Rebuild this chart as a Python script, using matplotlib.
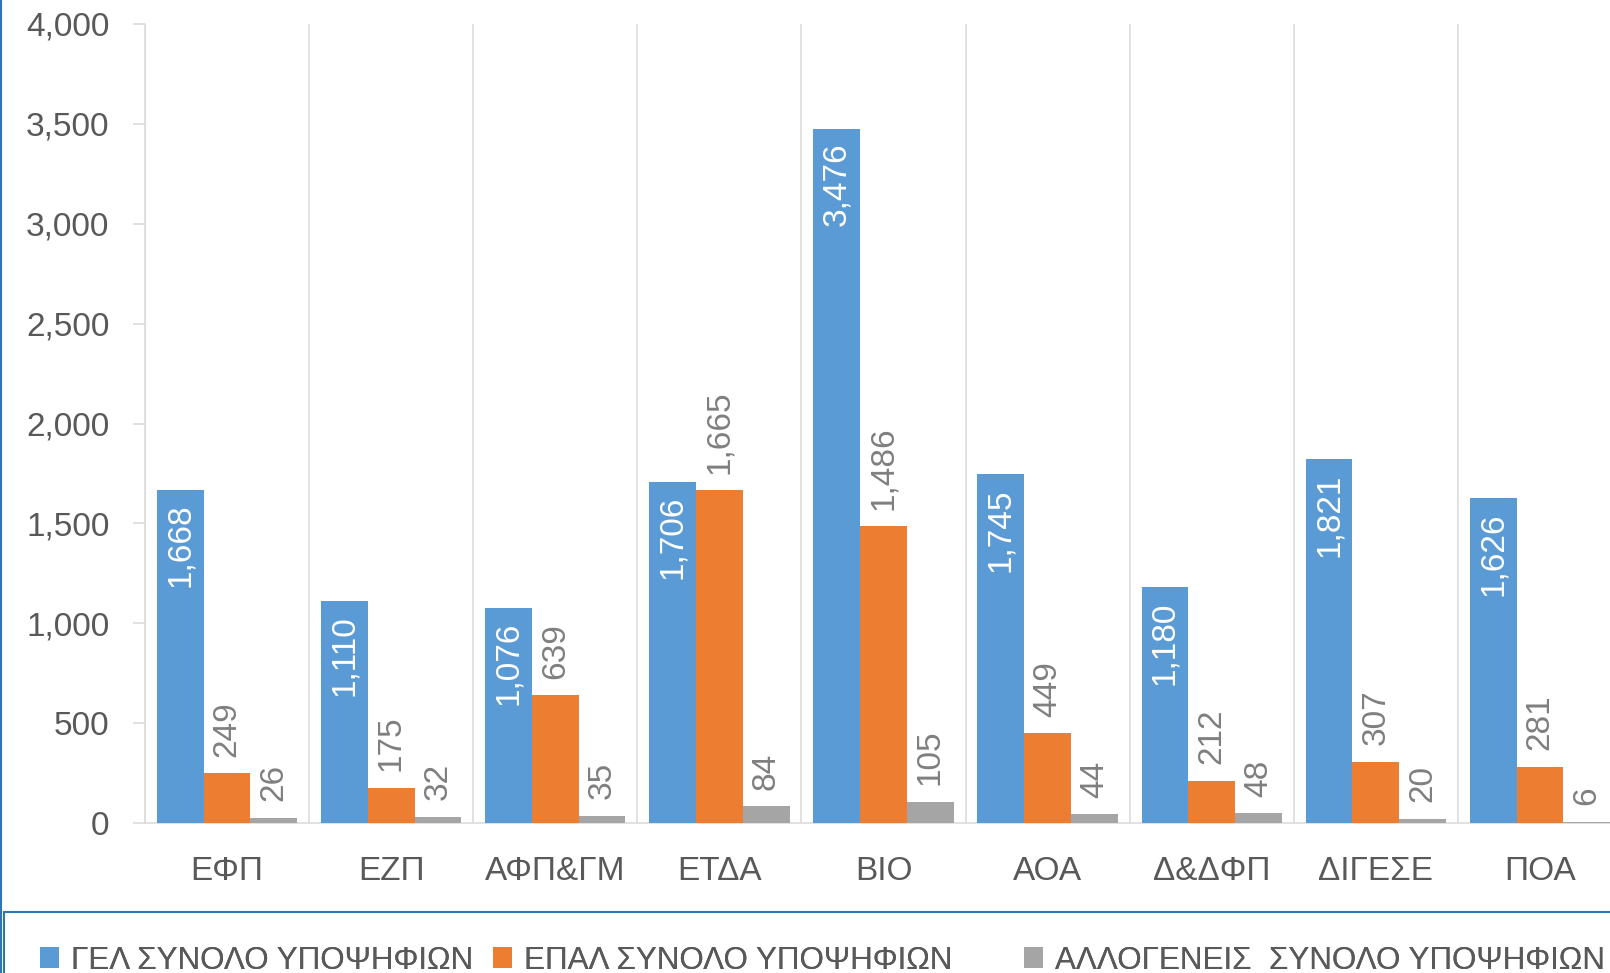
import numpy as np
import matplotlib
matplotlib.use("Agg")
import matplotlib.pyplot as plt
from matplotlib.patches import Rectangle, Patch
from matplotlib.lines import Line2D

# ── data ────────────────────────────────────────────────────────────────
categories = ["ΕΦΠ", "ΕΖΠ", "ΑΦΠ&ΓΜ", "ΕΤΔΑ", "ΒΙΟ", "ΑΟΑ", "Δ&ΔΦΠ", "ΔΙΓΕΣΕ", "ΠΟΑ"]
gel    = [1668, 1110, 1076, 1706, 3476, 1745, 1180, 1821, 1626]
epal   = [249, 175, 639, 1665, 1486, 449, 212, 307, 281]
allog  = [26, 32, 35, 84, 105, 44, 48, 20, 6]
series_names = ["ΓΕΛ ΣΥΝΟΛΟ ΥΠΟΨΗΦΙΩΝ", "ΕΠΑΛ ΣΥΝΟΛΟ ΥΠΟΨΗΦΙΩΝ",
                "ΑΛΛΟΓΕΝΕΙΣ  ΣΥΝΟΛΟ ΥΠΟΨΗΦΙΩΝ"]
yticks = [0, 500, 1000, 1500, 2000, 2500, 3000, 3500, 4000]

colors = ["#5B9BD5", "#ED7D31", "#A5A5A5"]
W, H = 1610, 973
FS = 24

plt.rcParams["font.family"] = ["Liberation Sans", "DejaVu Sans"]

fig = plt.figure(figsize=(W / 100, H / 100), dpi=100)
ax = fig.add_axes([145 / W, 150 / H, 1477 / W, 799 / H])

x = np.arange(len(categories))
bw = 0.285
for k, (vals, col) in enumerate(zip([gel, epal, allog], colors)):
    bars = ax.bar(x + (k - 1) * bw, vals, width=bw, color=col, zorder=3)
    for b, v in zip(bars, vals):
        cx = b.get_x() + b.get_width() / 2
        if k == 0:
            ax.annotate(f"{v:,}", (cx, v), xytext=(0, -10), textcoords="offset points",
                        rotation=90, ha="center", va="top", color="white",
                        fontsize=FS, zorder=4)
        else:
            ax.annotate(f"{v:,}", (cx, v), xytext=(0, 12), textcoords="offset points",
                        rotation=90, ha="center", va="bottom", color="#7F7F7F",
                        fontsize=FS, zorder=4)

ax.set_xlim(-0.5, len(categories) - 0.5)
ax.set_ylim(0, 4000)
ax.set_yticks(yticks)
ax.set_yticklabels([f"{t:,}" for t in yticks])
ax.set_xticks(x)
ax.set_xticklabels(categories)
ax.set_xticks(np.arange(len(categories) + 1) - 0.5, minor=True)
ax.grid(which="minor", axis="x", color="#D9D9D9", linewidth=1.1, zorder=0)
ax.tick_params(axis="x", which="both", length=0, pad=24, labelsize=FS, labelcolor="#595959")
ax.tick_params(axis="y", length=8.6, width=1.1, color="#D9D9D9", pad=17,
               labelsize=FS, labelcolor="#595959")
for s in ["top", "right"]:
    ax.spines[s].set_visible(False)
for s in ["left", "bottom"]:
    ax.spines[s].set_color("#D9D9D9")
    ax.spines[s].set_linewidth(1.1)

# outer chart border and legend box (both run off the picture)
fig.add_artist(Line2D([1 / W, 1 / W], [0, 1], color="#2E75B6", linewidth=1.5))
fig.add_artist(Rectangle((4 / W, -0.05), 1.1, (61 / H) + 0.05, transform=fig.transFigure,
                         fill=False, edgecolor="#2E75B6", linewidth=1.5, clip_on=False))

# legend: one entry per series, placed like the Excel legend row
legend_x = [40, 493, 1024]
for name, col, lx in zip(series_names, colors, legend_x):
    leg = fig.legend([Patch(facecolor=col, edgecolor="none")], [name],
                     loc="center left", bbox_to_anchor=(lx / W, 12 / H),
                     frameon=False, fontsize=22.6, labelcolor="#595959",
                     handlelength=0.6, handleheight=0.65, handletextpad=0.4,
                     borderpad=0, borderaxespad=0)
    fig.add_artist(leg)

fig.savefig("out.png", dpi=100)
